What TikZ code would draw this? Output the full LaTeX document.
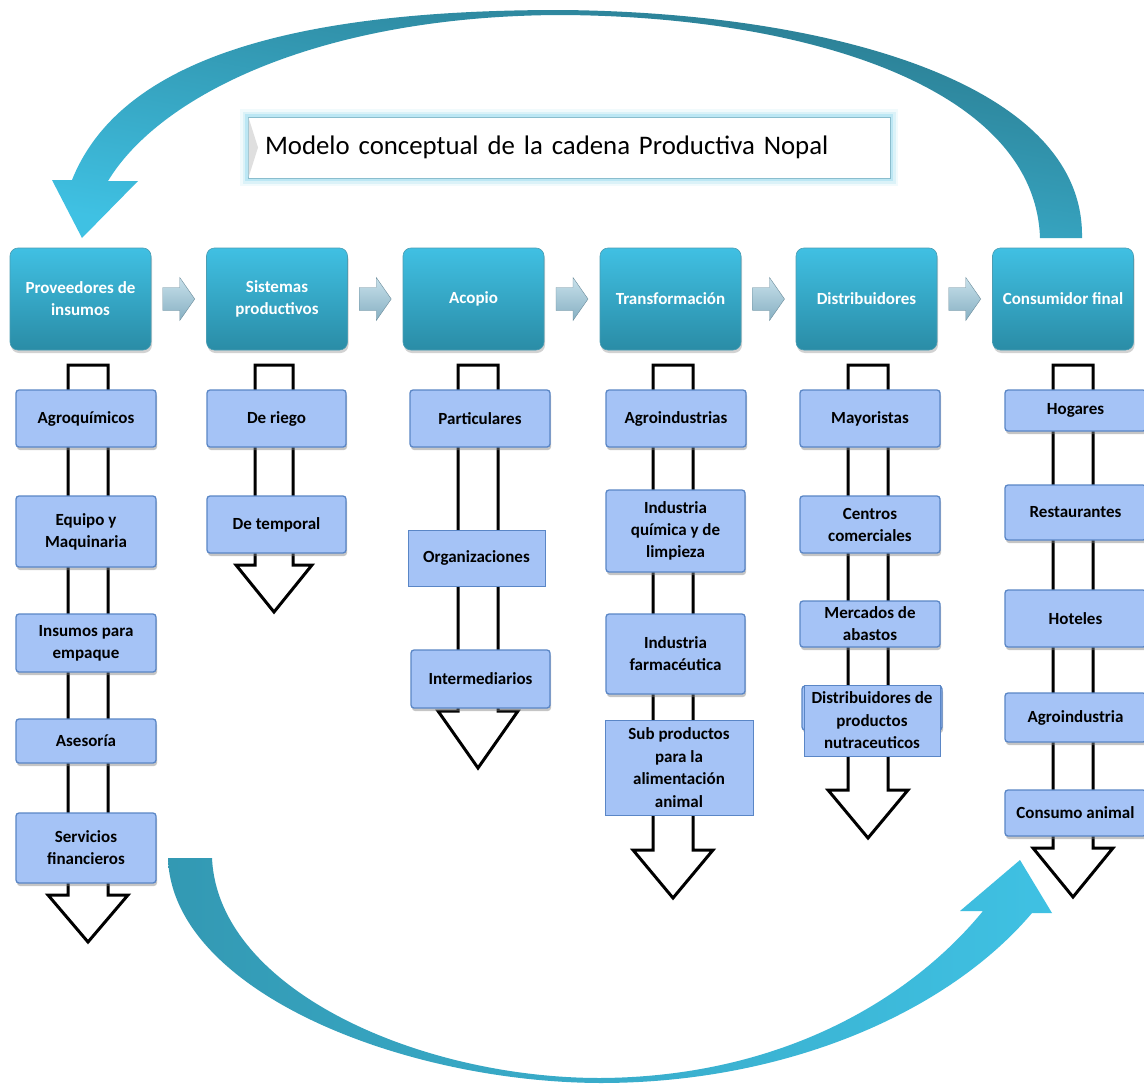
\documentclass[tikz,border=0pt]{standalone}
\usepackage{fontspec}
\setmainfont{Carlito}
\usetikzlibrary{shadows,calc}
\definecolor{headtop}{HTML}{40C0E3}
\definecolor{headbot}{HTML}{2A8CA6}
\definecolor{subfill}{HTML}{A5C3F6}
\definecolor{subdraw}{HTML}{5A86C6}
\definecolor{chevtop}{HTML}{C8E1EB}
\definecolor{chevbot}{HTML}{86AFC2}
\definecolor{arcdark}{HTML}{2A7A8E}
\definecolor{arcmid}{HTML}{3399B3}
\definecolor{arclight}{HTML}{3FC1E3}
\definecolor{glow}{HTML}{8FD8EE}
\tikzset{
  header/.style={rounded corners=8pt, top color=headtop, bottom color=headbot,
    draw=headbot!85!white, line width=0.6pt, text=white,
    font=\bfseries\fontsize{17}{22}\selectfont, align=center,
    minimum width=141pt, minimum height=102pt, inner sep=0pt,
    drop shadow={shadow xshift=1pt, shadow yshift=-3pt, opacity=0.35}},
  subbox/.style={rounded corners=3pt, fill=subfill, draw=subdraw, line width=1.3pt,
    font=\bfseries\fontsize{17}{22}\selectfont, align=center, inner sep=0pt,
    drop shadow={shadow xshift=1pt, shadow yshift=-3pt, opacity=0.45}},
  flatbox/.style={fill=subfill, draw=subdraw, line width=0.8pt,
    font=\bfseries\fontsize{17}{22.5}\selectfont, align=center, inner sep=0pt},
  flow/.style={fill=white, draw=black, line width=3pt, line join=miter},
  chev/.style={top color=chevtop, bottom color=chevbot, draw=chevbot!80!black, line width=0.4pt},
  titlebox/.style={fill=white, draw=glow!70!gray, line width=0.5pt, inner xsep=17pt, inner ysep=0pt,
    font=\fontsize{26.8}{32}\selectfont, text width=608pt, align=left, minimum height=61pt},
}
\newcommand{\subnd}[7][subbox]{\node[#1, minimum width={(#5-#3)*1pt}, minimum height={(#6-#4)*1pt}] (#2) at ({(#3+#5)/2},{(#4+#6)/2}) {#7};}
\newcommand{\flowar}[5]{\draw[flow] ({#1-#2},#3) -- ({#1+#2},#3) -- ({#1+#2},#4) -- ({#1+2*#2},#4) -- (#1,#5) -- ({#1-2*#2},#4) -- ({#1-#2},#4) -- cycle;}
\begin{document}
\begin{tikzpicture}[x=1pt,y=-1pt]
\useasboundingbox (0,0) rectangle (1144,1084);
\fill[white] (0,0) rectangle (1144,1084);

% top arc (back to suppliers)
\shade[top color=arcdark, bottom color=arclight, shading angle=-10]
  (1082,238) .. controls (1085,80) and (820,12) .. (560,10)
  .. controls (290,10) and (120,60) .. (72,180)
  -- (52,180) -- (82,238) -- (138,181) -- (108,181)
  .. controls (160,95) and (320,16) .. (560,15)
  .. controls (800,16) and (1035,85) .. (1040,238) -- cycle;

% bottom arc (to final consumer)
\shade[left color=arcmid, middle color=arcdark, right color=arclight]
  (168,858) .. controls (172,990) and (400,1082) .. (600,1083)
  .. controls (790,1083) and (950,1010) .. (1032,913)
  -- (1052,913) -- (1020,860) -- (960,911) -- (983,911)
  .. controls (910,1000) and (780,1077) .. (600,1078)
  .. controls (420,1078) and (218,990) .. (212,858) -- cycle;

% title with glow
\foreach \w/\o in {16/0.12, 11/0.22, 6/0.4}
  \draw[glow, line width=\w pt, opacity=\o] (248,117) rectangle (890,178);
\node[titlebox] (title) at (569,147.5) {Modelo conceptual de la cadena Productiva Nopal};
\fill[gray!25] (248.5,117.5) -- (258,147.5) -- (248.5,177.5) -- cycle;

% hollow flow arrows
\flowar{88}{20}{365}{895}{942}
\flowar{274}{19}{365}{565}{612}
\flowar{478}{20}{365}{711}{768}
\flowar{673}{20}{365}{850}{898}
\flowar{868}{20}{365}{790}{838}
\flowar{1073}{20}{365}{848}{897}

% headers
\node[header] (h1) at (80.5,299) {Proveedores de\\insumos};
\node[header] (h2) at (277,299) {Sistemas\\productivos};
\node[header] (h3) at (473.5,299) {Acopio};
\node[header] (h4) at (670.5,299) {Transformación};
\node[header] (h5) at (866.5,299) {Distribuidores};
\node[header] (h6) at (1063,299) {Consumidor final};

% chevrons between headers
\foreach \a/\b in {h1/h2,h2/h3,h3/h4,h4/h5,h5/h6}{
  \coordinate (m) at ($(\a.east)!.5!(\b.west)$);
  \shade[chev] ([shift={(-16,-11.5)}]m) -- ([shift={(1,-11.5)}]m) -- ([shift={(1,-21.5)}]m)
    -- ([shift={(16,0)}]m) -- ([shift={(1,21.5)}]m) -- ([shift={(1,11.5)}]m)
    -- ([shift={(-16,11.5)}]m) -- cycle;
}

% column 1
\subnd{a1}{16}{390}{156}{447}{Agroquímicos}
\subnd{a2}{16}{496}{156}{567}{Equipo y\\Maquinaria}
\subnd{a3}{16}{614}{156}{672}{Insumos para\\empaque}
\subnd{a4}{16}{719}{156}{763}{Asesoría}
\subnd{a5}{16}{813}{156}{883}{Servicios\\financieros}
% column 2
\subnd{b1}{207}{390}{346}{447}{De riego}
\subnd{b2}{207}{496}{346}{553}{De temporal}
% column 3
\subnd{c1}{410}{390}{550}{447}{Particulares}
\subnd[flatbox]{c2}{408}{530}{545}{586}{Organizaciones}
\subnd{c3}{411}{650}{550}{708}{Intermediarios}
% column 4
\subnd{d1}{606}{390}{746}{447}{Agroindustrias}
\subnd{d2}{606}{490}{745}{572}{Industria\\química y de\\limpieza}
\subnd{d3}{606}{614}{745}{694}{Industria\\farmacéutica}
\subnd[flatbox]{d4}{605}{720}{753}{815}{Sub productos\\para la\\alimentación\\animal}
% column 5
\subnd{e1}{800}{390}{940}{447}{Mayoristas}
\subnd{e2}{800}{496}{940}{553}{Centros\\comerciales}
\subnd{e3}{800}{601}{940}{647}{Mercados de\\abastos}
\subnd{e4b}{802}{686}{942}{730}{}
\subnd[flatbox]{e4}{804}{685}{940}{756}{Distribuidores de\\productos\\nutraceuticos}
% column 6
\subnd{f1}{1005}{390}{1146}{431}{Hogares}
\subnd{f2}{1005}{485}{1146}{540}{Restaurantes}
\subnd{f3}{1005}{590}{1146}{647}{Hoteles}
\subnd{f4}{1005}{693}{1146}{742}{Agroindustria}
\subnd{f5}{1005}{790}{1146}{836}{Consumo animal}
\end{tikzpicture}
\end{document}
